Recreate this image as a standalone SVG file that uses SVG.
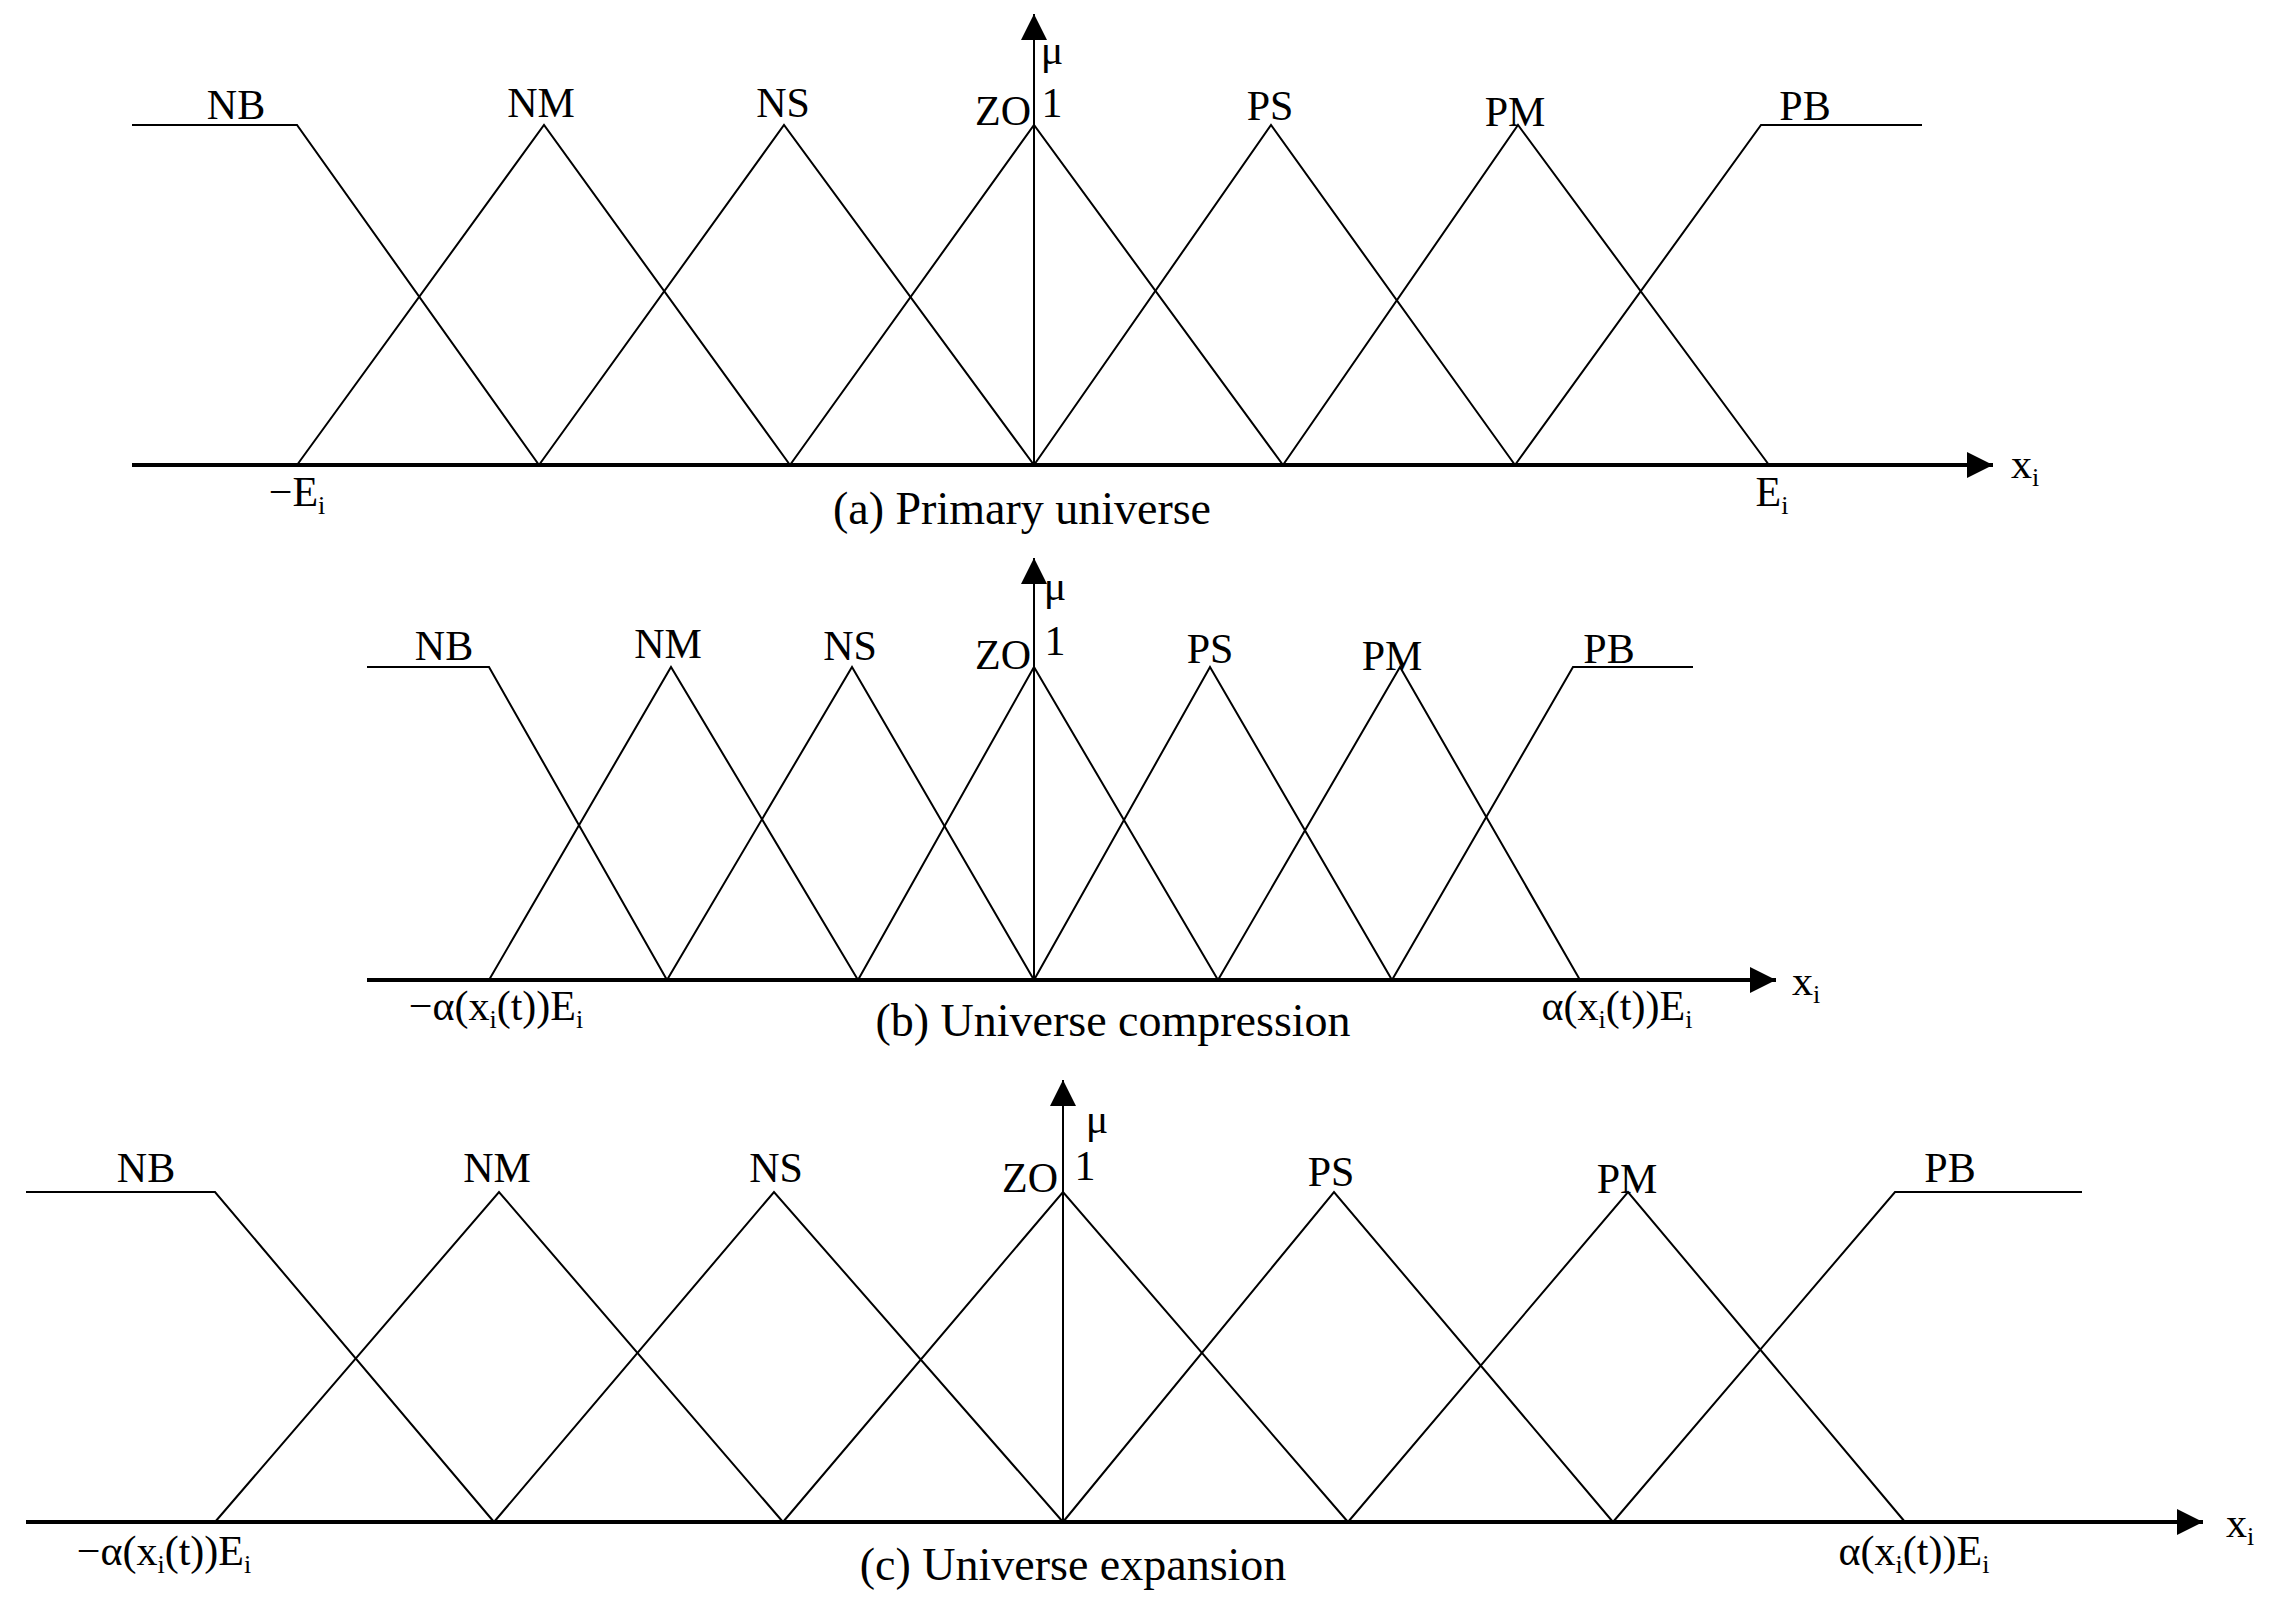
<svg xmlns="http://www.w3.org/2000/svg" width="2273" height="1611" viewBox="0 0 2273 1611">
<style>
text{font-family:"Liberation Serif",serif;fill:#000}
.l{font-size:42px;text-anchor:middle}
.c{font-size:46px;text-anchor:middle}
.m{fill:none;stroke:#000;stroke-width:2}
.ax{stroke:#000;stroke-width:4}
.v{stroke:#000;stroke-width:2}
</style>
<defs>
<marker id="ah2" viewBox="0 0 10 10" refX="10" refY="5" markerWidth="28" markerHeight="26" markerUnits="userSpaceOnUse" orient="auto"><path d="M0,0L10,5L0,10z"/></marker>
</defs>
<g id="connectors">
<line class="ax" x1="132" y1="465" x2="1993" y2="465" marker-end="url(#ah2)"/>
<line class="v" x1="1034" y1="465" x2="1034" y2="14" marker-end="url(#ah2)"/>
<polyline class="m" points="132,125 297,125 539,465"/>
<polyline class="m" points="297,465 544,125 790,465"/>
<polyline class="m" points="539,465 784,125 1034,465"/>
<polyline class="m" points="790,465 1034,125 1283,465"/>
<polyline class="m" points="1034,465 1271,125 1515,465"/>
<polyline class="m" points="1283,465 1518,125 1769,465"/>
<polyline class="m" points="1515,465 1761,125 1922,125"/>
<line class="ax" x1="367" y1="980" x2="1776" y2="980" marker-end="url(#ah2)"/>
<line class="v" x1="1034" y1="980" x2="1034" y2="558" marker-end="url(#ah2)"/>
<polyline class="m" points="367,667 489,667 667,980"/>
<polyline class="m" points="489,980 671,667 858,980"/>
<polyline class="m" points="667,980 852,667 1034,980"/>
<polyline class="m" points="858,980 1034,667 1218,980"/>
<polyline class="m" points="1034,980 1210,667 1392,980"/>
<polyline class="m" points="1218,980 1400,667 1580,980"/>
<polyline class="m" points="1392,980 1573,667 1693,667"/>
<line class="ax" x1="26" y1="1522" x2="2203" y2="1522" marker-end="url(#ah2)"/>
<line class="v" x1="1063" y1="1522" x2="1063" y2="1080" marker-end="url(#ah2)"/>
<polyline class="m" points="26,1192 215,1192 494,1522"/>
<polyline class="m" points="215,1522 499,1192 783,1522"/>
<polyline class="m" points="494,1522 774,1192 1063,1522"/>
<polyline class="m" points="783,1522 1063,1192 1348,1522"/>
<polyline class="m" points="1063,1522 1334,1192 1613,1522"/>
<polyline class="m" points="1348,1522 1628,1192 1905,1522"/>
<polyline class="m" points="1613,1522 1895,1192 2082,1192"/>
</g>
<g id="labels-a">
<text class="l" x="236" y="119">NB</text>
<text class="l" x="541" y="117">NM</text>
<text class="l" x="783" y="117">NS</text>
<text class="l" x="1003" y="125">ZO</text>
<text class="l" x="1052" y="64">μ</text>
<text class="l" x="1052" y="117">1</text>
<text class="l" x="1270" y="120">PS</text>
<text class="l" x="1515" y="126">PM</text>
<text class="l" x="1805" y="120">PB</text>
<text class="l" x="297" y="506">−E<tspan font-size="26" dy="8">i</tspan></text>
<text class="l" x="1772" y="506">E<tspan font-size="26" dy="8">i</tspan></text>
<text class="l" x="2025" y="478">x<tspan font-size="26" dy="8">i</tspan></text>
<text class="c" x="1022" y="524">(a) Primary universe</text>
</g>
<g id="labels-b">
<text class="l" x="444" y="660">NB</text>
<text class="l" x="668" y="658">NM</text>
<text class="l" x="850" y="660">NS</text>
<text class="l" x="1003" y="669">ZO</text>
<text class="l" x="1055" y="600">μ</text>
<text class="l" x="1055" y="655">1</text>
<text class="l" x="1210" y="663">PS</text>
<text class="l" x="1392" y="670">PM</text>
<text class="l" x="1609" y="663">PB</text>
<text class="l" x="496" y="1020">−α(x<tspan font-size="26" dy="8">i</tspan><tspan dy="-8">(t))E</tspan><tspan font-size="26" dy="8">i</tspan></text>
<text class="l" x="1617" y="1020">α(x<tspan font-size="26" dy="8">i</tspan><tspan dy="-8">(t))E</tspan><tspan font-size="26" dy="8">i</tspan></text>
<text class="l" x="1806" y="995">x<tspan font-size="26" dy="8">i</tspan></text>
<text class="c" x="1113" y="1036">(b) Universe compression</text>
</g>
<g id="labels-c">
<text class="l" x="146" y="1182">NB</text>
<text class="l" x="497" y="1182">NM</text>
<text class="l" x="776" y="1182">NS</text>
<text class="l" x="1030" y="1192">ZO</text>
<text class="l" x="1097" y="1133">μ</text>
<text class="l" x="1085" y="1180">1</text>
<text class="l" x="1331" y="1186">PS</text>
<text class="l" x="1627" y="1193">PM</text>
<text class="l" x="1950" y="1182">PB</text>
<text class="l" x="164" y="1565">−α(x<tspan font-size="26" dy="8">i</tspan><tspan dy="-8">(t))E</tspan><tspan font-size="26" dy="8">i</tspan></text>
<text class="l" x="1914" y="1565">α(x<tspan font-size="26" dy="8">i</tspan><tspan dy="-8">(t))E</tspan><tspan font-size="26" dy="8">i</tspan></text>
<text class="l" x="2240" y="1537">x<tspan font-size="26" dy="8">i</tspan></text>
<text class="c" x="1073" y="1580">(c) Universe expansion</text>
</g>
</svg>
